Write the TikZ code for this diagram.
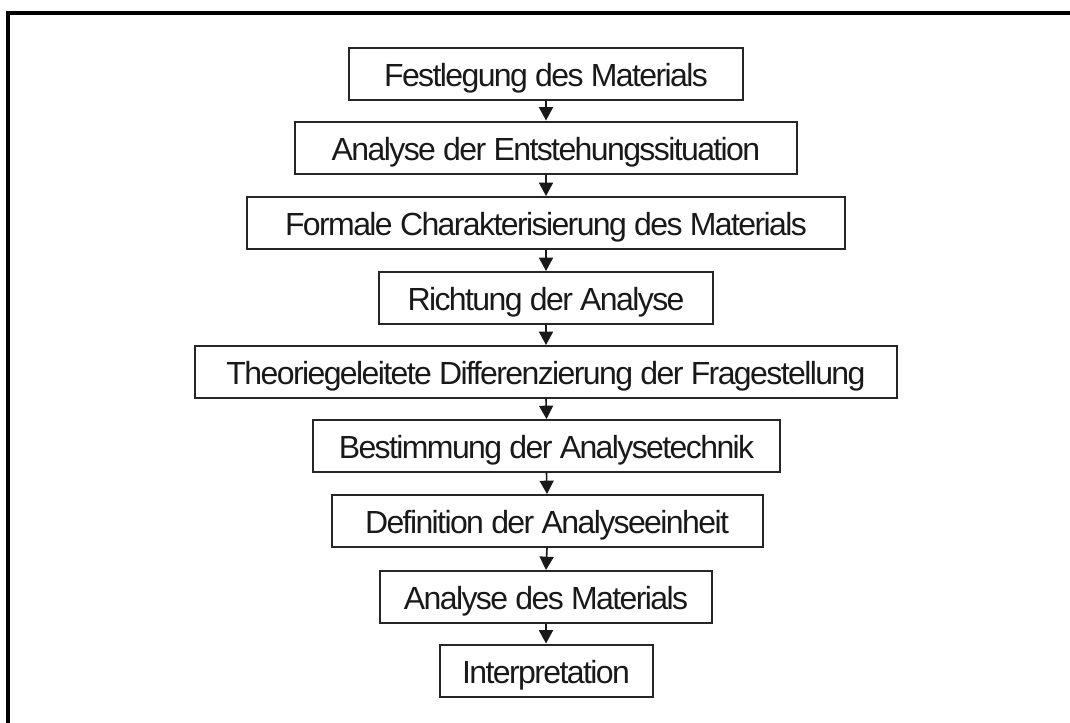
\documentclass[tikz,border=0pt]{standalone}
\usepackage{fontspec}
\setmainfont{Liberation Sans}[LetterSpace=-5]
\usetikzlibrary{arrows.meta}
\begin{document}
\begin{tikzpicture}[x=0.75pt,y=-0.75pt,
  stepbox/.style={draw=black!85,line width=1.5pt,inner sep=0pt,minimum height=39pt,
    text height=19pt,text depth=0.2pt,
    font=\fontsize{24}{28}\selectfont,text=black!90},
  flow/.style={draw=black!90,line width=1.2pt,-{Triangle[width=10.5pt,length=10pt]}}]
\useasboundingbox (0,0) rectangle (1070,722);
\clip (0,0) rectangle (1070,722);
\fill[white] (0,0) rectangle (1070,722);
\draw[line width=2.4pt,black] (8,13) rectangle (1090,740);
\node[stepbox,minimum width=295.5pt] (b1) at (546,73.5) {Festlegung des Materials};
\node[stepbox,minimum width=376.5pt] (b2) at (546,147.5) {Analyse der Entstehungssituation};
\node[stepbox,minimum width=448.5pt] (b3) at (546,223) {Formale Charakterisierung des Materials};
\node[stepbox,minimum width=250.5pt] (b4) at (546,298) {Richtung der Analyse};
\node[stepbox,minimum width=526.5pt] (b5) at (546,372) {Theoriegeleitete Differenzierung der Fragestellung};
\node[stepbox,minimum width=350pt] (b6) at (546.5,446) {Bestimmung der Analysetechnik};
\node[stepbox,minimum width=323.25pt] (b7) at (547,521) {Definition der Analyseeinheit};
\node[stepbox,minimum width=249pt] (b8) at (546,597) {Analyse des Materials};
\node[stepbox,minimum width=159.75pt] (b9) at (546,670.5) {Interpretation};
\foreach \a/\b in {b1/b2,b2/b3,b3/b4,b4/b5,b5/b6,b6/b7,b7/b8,b8/b9}
  \draw[flow] (\a.south) -- (\b.north);
\end{tikzpicture}
\end{document}
